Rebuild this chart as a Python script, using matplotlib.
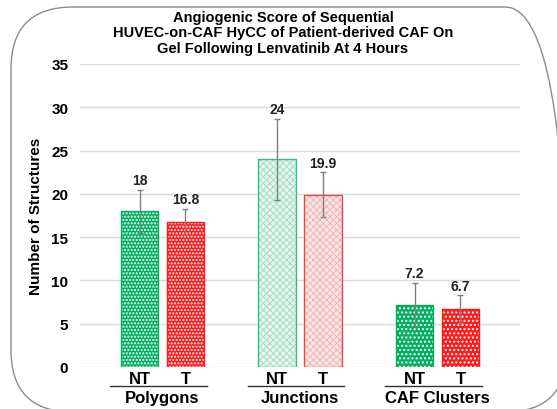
import matplotlib
matplotlib.use("Agg")
import matplotlib.pyplot as plt
import numpy as np
from matplotlib.patches import FancyBboxPatch
from matplotlib.lines import Line2D
import matplotlib.transforms as mtransforms

plt.rcParams['font.family'] = ['Liberation Sans', 'DejaVu Sans']

groups = ["Polygons", "Junctions", "CAF Clusters"]
conditions = ["NT", "T"]
nt_values = [18, 24, 7.2]
t_values = [16.8, 19.9, 6.7]
nt_err = [2.5, 4.7, 2.5]
t_err = [1.5, 2.6, 1.6]
title = "Angiogenic Score of Sequential\nHUVEC-on-CAF HyCC of Patient-derived CAF On\nGel Following Lenvatinib At 4 Hours"
ylabel = "Number of Structures"
yticks = [0, 5, 10, 15, 20, 25, 30, 35]

fig = plt.figure(figsize=(5.57, 4.10), dpi=100)
ax = fig.add_axes([80/557, 1-368/410, 440/557, 303/410])

x = np.arange(len(groups))
w = 0.27
off = 0.167

green = '#00B060'
red = '#FF1A1A'
# styles per group: (face, hatch, hatch color, edge, hatch lw)
nt_styles = [
    (green, '.....', 'white', green, 1.0),
    ('#e4f5ed', 'xxxxx', '#a3dac2', '#2cc08a', 0.6),
    (green, '....', 'white', green, 1.0),
]
t_styles = [
    (red, '.....', 'white', red, 1.0),
    ('#fbe5e5', 'xxxxx', '#efb0b0', '#e24a4a', 0.6),
    (red, '....', 'white', red, 1.0),
]

for i in range(len(groups)):
    for xpos, val, err, st in [(x[i]-off, nt_values[i], nt_err[i], nt_styles[i]),
                               (x[i]+off, t_values[i], t_err[i], t_styles[i])]:
        face, hatch, hcol, edge, hlw = st
        with plt.rc_context({'hatch.linewidth': hlw}):
            ax.bar(xpos, val, w, color=face, edgecolor=hcol, hatch=hatch, linewidth=0, zorder=2)
        ax.bar(xpos, val, w, color='none', edgecolor=edge, linewidth=1.0, zorder=3)
        ax.errorbar(xpos, val, yerr=err, fmt='none', ecolor='#808080', elinewidth=1.0,
                    capsize=2, capthick=1.0, zorder=4)
        ax.text(xpos, val + err + 0.3, f"{val:g}", ha='center', va='bottom',
                fontsize=10, fontweight='bold', color='#222222', zorder=5)

ax.set_xlim(-0.6, 2.6)
ax.set_ylim(0, 35)
ax.set_yticks(yticks)
ax.set_yticklabels([str(v) for v in yticks], fontsize=11, fontweight='bold')
ax.yaxis.grid(True, color='#d9d9d9', linewidth=1)
ax.set_axisbelow(True)
for s in ['top', 'right', 'left', 'bottom']:
    ax.spines[s].set_visible(False)
ax.tick_params(axis='y', length=0, pad=8.5)

xt = []
xl = []
for i in range(len(groups)):
    xt += [x[i]-off, x[i]+off]
    xl += conditions
ax.set_xticks(xt)
ax.set_xticklabels(xl, fontsize=12, fontweight='bold')
ax.tick_params(axis='x', length=0, pad=3)

trans = mtransforms.blended_transform_factory(ax.transData, fig.transFigure)
for i, g in enumerate(groups):
    ax.add_line(Line2D([x[i]-0.38, x[i]+0.32], [1-387/410, 1-387/410], color='#333333',
                       linewidth=1, transform=trans, clip_on=False))
    ax.text(x[i], 1-399/410, g, transform=trans, ha='center', va='center',
            fontsize=12, fontweight='bold')

ax.set_ylabel(ylabel, fontsize=11, fontweight='bold', labelpad=6)

fig.text(283/557, 1-33.5/410, title, ha='center', va='center', fontsize=10.5,
         fontweight='bold', linespacing=1.13)

border = FancyBboxPatch((0.11, -0.03), 5.56, 4.05,
                        boxstyle="round,pad=0,rounding_size=0.62",
                        transform=fig.dpi_scale_trans, facecolor='none',
                        edgecolor='#8c8c8c', linewidth=1.0)
fig.patches.append(border)

fig.savefig("out.png", dpi=100)
